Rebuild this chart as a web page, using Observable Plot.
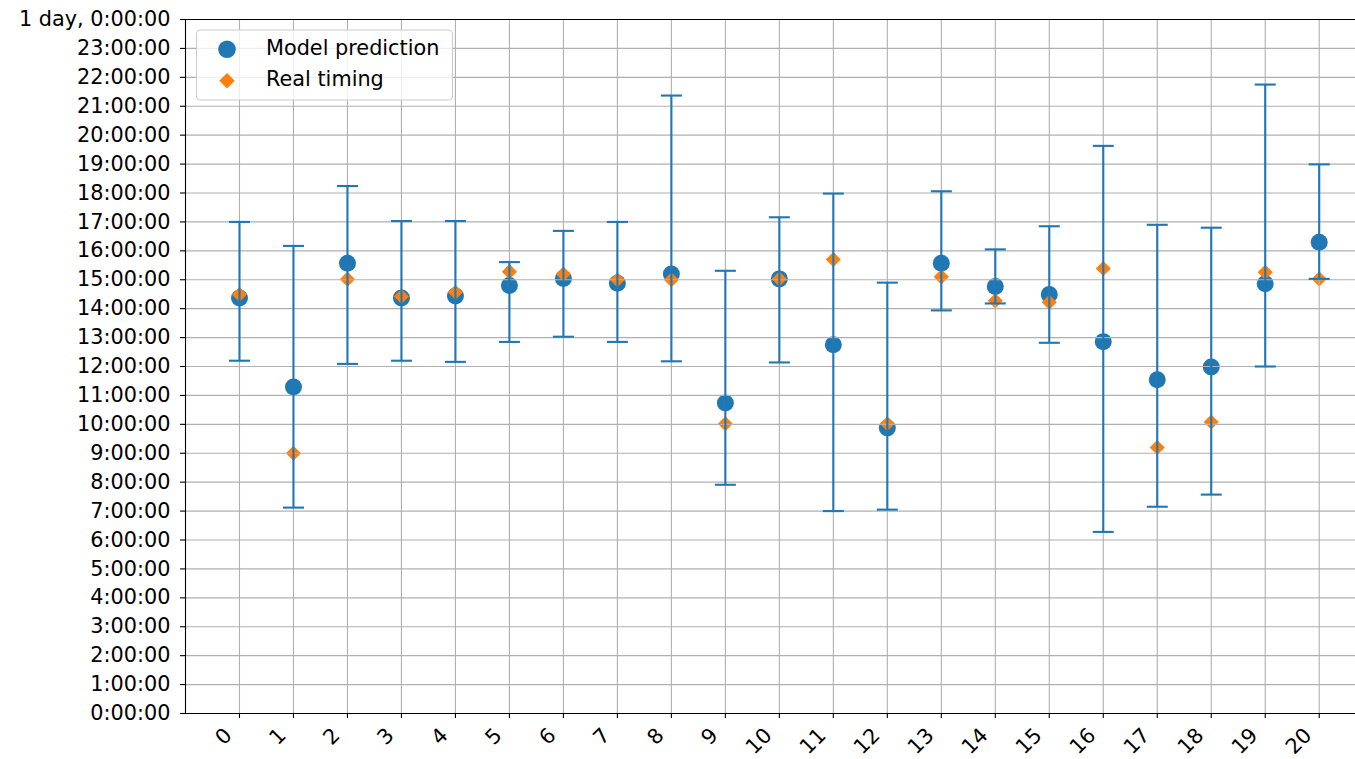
<!DOCTYPE html>
<html>
<head>
<meta charset="utf-8">
<script src="https://cdn.jsdelivr.net/npm/d3@7"></script>
<script src="https://cdn.jsdelivr.net/npm/@observablehq/plot@0.6"></script>
<style>
  html, body { margin: 0; padding: 0; background: #fff; }
  #chart { width: 1355px; height: 759px; overflow: hidden; }
</style>
</head>
<body>
<div id="chart"></div>
<script>
// ---- data (hours of day) ----
const categories = [0,1,2,3,4,5,6,7,8,9,10,11,12,13,14,15,16,17,18,19,20];
const tickLabels = categories.map(String);
const predicted = [14.37, 11.29, 15.57, 14.37, 14.44, 14.80, 15.04, 14.88, 15.20, 10.74, 15.03, 12.75, 9.87, 15.57, 14.77, 14.49, 12.86, 11.54, 11.98, 14.86, 16.30];
const real      = [14.49, 9.00, 15.02, 14.42, 14.57, 15.28, 15.20, 15.00, 15.00, 10.02, 15.03, 15.70, 10.02, 15.10, 14.27, 14.22, 15.39, 9.20, 10.08, 15.26, 15.03];
const lower     = [12.20, 7.12, 12.09, 12.20, 12.16, 12.85, 13.03, 12.85, 12.18, 7.91, 12.14, 7.00, 7.05, 13.94, 14.18, 12.82, 6.28, 7.15, 7.57, 12.00, 15.03];
const upper     = [17.00, 16.17, 18.24, 17.03, 17.03, 15.61, 16.69, 17.00, 21.37, 15.31, 17.16, 17.98, 14.90, 18.06, 16.05, 16.85, 19.63, 16.90, 16.80, 21.75, 18.99];
const hourTicks = d3.range(0, 25);
const seriesNames = ["Model prediction", "Real timing"];

const rows = categories.map((c, i) => ({c, pred: predicted[i], real: real[i], lo: lower[i], hi: upper[i]}));
const caps = rows.flatMap(d => [{c: d.c, y: d.lo}, {c: d.c, y: d.hi}]);

const blue = "#1f77b4", orange = "#ff7f0e", grid = "#b0b0b0";
const FS = 20.8;
const FONT = "'DejaVu Sans', sans-serif";

const capSymbol = {
  draw(context, size) {
    const r = Math.sqrt(size / Math.PI);
    context.moveTo(-r, 0);
    context.lineTo(r, 0);
  }
};

const fmtHour = h => h === 24 ? "1 day, 0:00:00" : `${h}:00:00`;

const plot = Plot.plot({
  width: 1355,
  height: 759,
  marginLeft: 185,
  marginRight: 0,
  marginTop: 19,
  marginBottom: 46,
  style: {fontFamily: FONT, fontSize: FS + "px", background: "white", color: "black"},
  x: {type: "linear", domain: [-1, 21], range: [185, 1372.7]},
  y: {domain: [0, 24]},
  marks: [
    Plot.dot(rows, {x: "c", y: "pred", r: 8.5, fill: blue, symbol: "circle"}),
    Plot.dot(rows, {x: "c", y: "real", r: 6.8, fill: orange, symbol: "diamond2"}),
    Plot.gridY(hourTicks, {stroke: grid, strokeOpacity: 1, strokeWidth: 1.1}),
    Plot.gridX(categories, {stroke: grid, strokeOpacity: 1, strokeWidth: 1.1}),
    Plot.ruleX(rows, {x: "c", y1: "lo", y2: "hi", stroke: blue, strokeWidth: 2.1}),
    Plot.dot(caps, {x: "c", y: "y", r: 10.5, symbol: capSymbol, stroke: blue, strokeWidth: 2.1, fill: "none"}),
    Plot.axisY(hourTicks, {tickFormat: fmtHour, tickSize: 5, tickPadding: 10, strokeWidth: 1.1, fontSize: FS, fill: "black", label: null}),
    Plot.axisX(categories, {tickFormat: () => "", tickSize: 5, strokeWidth: 1.1, label: null}),
    Plot.text(categories, {x: d => d, text: d => tickLabels[d], frameAnchor: "bottom", dx: -11, dy: 18.4, rotate: -45, textAnchor: "end", lineAnchor: "middle", fontSize: FS, fill: "black"}),
    Plot.ruleX([-1], {stroke: "black", strokeWidth: 1.1}),
    Plot.ruleY([0, 24], {stroke: "black", strokeWidth: 1.1})
  ]
});

document.getElementById("chart").appendChild(plot);

// ---- legend (drawn inside the svg, top-left of plot area) ----
const svg = d3.select(plot);
const lg = svg.append("g");
lg.append("rect")
  .attr("x", 196.5).attr("y", 30).attr("width", 256).attr("height", 70)
  .attr("rx", 4).attr("ry", 4)
  .attr("fill", "white").attr("fill-opacity", 0.8)
  .attr("stroke", "#cccccc").attr("stroke-width", 1.1);
lg.append("path")
  .attr("d", d3.symbol(d3.symbolCircle, Math.PI * 8.8 * 8.8)())
  .attr("transform", "translate(227,49.3)")
  .attr("fill", blue);
lg.append("path")
  .attr("d", d3.symbol(d3.symbolDiamond2, Math.PI * 7.0 * 7.0)())
  .attr("transform", "translate(227,80.7)")
  .attr("fill", orange);
seriesNames.forEach((name, i) => {
  lg.append("text")
    .attr("x", 266).attr("y", 55 + i * 31)
    .attr("text-anchor", "start")
    .attr("font-family", FONT)
    .attr("font-size", FS).attr("fill", "black")
    .text(name);
});
</script>
</body>
</html>
